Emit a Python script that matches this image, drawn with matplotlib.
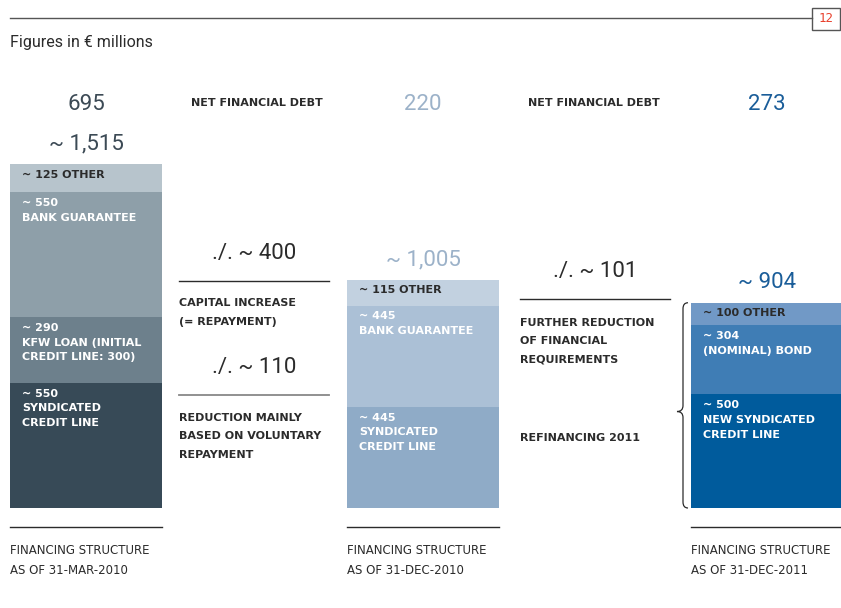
import matplotlib
matplotlib.use("Agg")
import matplotlib.pyplot as plt
from matplotlib.patches import Rectangle, PathPatch
from matplotlib.path import Path

# data (segments bottom-up, values in EUR millions)
periods = ["FINANCING STRUCTURE\nAS OF 31-MAR-2010",
           "FINANCING STRUCTURE\nAS OF 31-DEC-2010",
           "FINANCING STRUCTURE\nAS OF 31-DEC-2011"]
net_debt = [695, 220, 273]
totals = [1515, 1005, 904]
total_labels = ["~ 1,515", "~ 1,005", "~ 904"]

mar2010_values = [550, 290, 550, 125]
mar2010_labels = ["~ 550\nSYNDICATED\nCREDIT LINE",
                  "~ 290\nKFW LOAN (INITIAL\nCREDIT LINE: 300)",
                  "~ 550\nBANK GUARANTEE",
                  "~ 125 OTHER"]
dec2010_values = [445, 445, 115]
dec2010_labels = ["~ 445\nSYNDICATED\nCREDIT LINE",
                  "~ 445\nBANK GUARANTEE",
                  "~ 115 OTHER"]
dec2011_values = [500, 304, 100]
dec2011_labels = ["~ 500\nNEW SYNDICATED\nCREDIT LINE",
                  "~ 304\n(NOMINAL) BOND",
                  "~ 100 OTHER"]

reductions = ["./. ~ 400", "./. ~ 110", "./. ~ 101"]

# styling
mar_colors = ["#374a57", "#6d808c", "#8e9fa9", "#b7c4cc"]
dec10_colors = ["#8fabc7", "#abc0d6", "#c2d1e0"]
dec11_colors = ["#005b9c", "#3f7db5", "#7199c6"]
num_colors = ["#3c4a55", "#9cb2c9", "#1a5d99"]
dark = "#2b2b2b"
small = 8

W, H = 841, 608
base_px = 508
scale = 344 / 1515  # px per million

fig = plt.figure(figsize=(W / 100, H / 100), dpi=100)
ax = fig.add_axes([0, 0, 1, 1])
ax.set_xlim(0, W)
ax.set_ylim(-(H - base_px) / scale, base_px / scale)
ax.axis("off")

# overlay for page furniture in pixel coords
ov = fig.add_axes([0, 0, 1, 1], zorder=3)
ov.set_xlim(0, W)
ov.set_ylim(H, 0)
ov.axis("off")
ov.patch.set_alpha(0)

bar_x = [10, 347, 691]
bar_w = 152
stacks = [(mar2010_values, mar2010_labels, mar_colors),
          (dec2010_values, dec2010_labels, dec10_colors),
          (dec2011_values, dec2011_labels, dec11_colors)]

for i, (vals, labs, cols) in enumerate(stacks):
    bottom = 0
    for v, lab, c in zip(vals, labs, cols):
        ax.bar(bar_x[i], v, width=bar_w, bottom=bottom, color=c, align="edge", linewidth=0)
        top = bottom + v
        tc = dark if "OTHER" in lab else "white"
        ax.annotate(lab, xy=(bar_x[i], top), xytext=(8.5, -4), textcoords="offset points",
                    ha="left", va="top", fontsize=small, fontweight="bold", color=tc,
                    linespacing=1.6, family="DejaVu Sans")
        bottom = top
    cx = bar_x[i] + bar_w / 2
    ax.annotate(total_labels[i], xy=(cx, totals[i]), xytext=(0, 14.5), textcoords="offset points",
                ha="center", va="center", fontsize=16, color=num_colors[i], family="Roboto")
    ov.text(cx, 104, str(net_debt[i]), ha="center", va="center", fontsize=16,
            color=num_colors[i], family="Roboto")
    ov.plot([bar_x[i], bar_x[i] + bar_w], [527, 527], color=dark, lw=1)
    ov.text(bar_x[i], 544, periods[i], ha="left", va="top", fontsize=8.5, color=dark,
            linespacing=1.7, family="DejaVu Sans", fontweight="medium")

# header
ov.plot([10, 812], [18, 18], color="#555555", lw=1)
ov.add_patch(Rectangle((812, 8), 28, 22, fill=False, edgecolor="#555555", lw=1))
ov.text(826, 19, "12", ha="center", va="center", fontsize=9, color="#e8402c", family="DejaVu Sans Mono")
ov.text(10, 42, "Figures in € millions", ha="left", va="center", fontsize=11.5, color=dark, family="Roboto")

for x in [257, 594]:
    ov.text(x, 103, "NET FINANCIAL DEBT", ha="center", va="center", fontsize=small,
            fontweight="bold", color=dark, family="DejaVu Sans")

# explanation columns
ov.text(254, 253, reductions[0], ha="center", va="center", fontsize=16, color=dark, family="Roboto")
ov.plot([179, 329], [281, 281], color=dark, lw=1)
ov.text(179, 298, "CAPITAL INCREASE\n(= REPAYMENT)", ha="left", va="top", fontsize=small,
        fontweight="bold", color=dark, linespacing=2.1, family="DejaVu Sans")
ov.text(254, 367, reductions[1], ha="center", va="center", fontsize=16, color=dark, family="Roboto")
ov.plot([179, 329], [395, 395], color="#888888", lw=1.3)
ov.text(179, 413, "REDUCTION MAINLY\nBASED ON VOLUNTARY\nREPAYMENT", ha="left", va="top", fontsize=small,
        fontweight="bold", color=dark, linespacing=2.05, family="DejaVu Sans")

ov.text(595, 272, reductions[2], ha="center", va="center", fontsize=16, color=dark, family="Roboto")
ov.plot([520, 670], [299, 299], color=dark, lw=1)
ov.text(520, 318, "FURTHER REDUCTION\nOF FINANCIAL\nREQUIREMENTS", ha="left", va="top", fontsize=small,
        fontweight="bold", color=dark, linespacing=2.05, family="DejaVu Sans")
ov.text(520, 438, "REFINANCING 2011", ha="left", va="center", fontsize=small,
        fontweight="bold", color=dark, family="DejaVu Sans")

# brace next to last bar, spanning its full height
t = totals[2]
mid = t * 0.47
d = 6 / scale
bx, tip = 683, 677
verts = [(688, t), (683, t), (bx, t - d),
         (bx, mid + d), (bx, mid), (tip, mid),
         (bx, mid), (bx, mid - d),
         (bx, d), (683, 0), (688, 0)]
codes = [Path.MOVETO, Path.CURVE3, Path.CURVE3,
         Path.LINETO, Path.CURVE3, Path.CURVE3,
         Path.CURVE3, Path.CURVE3,
         Path.LINETO, Path.CURVE3, Path.CURVE3]
ax.add_patch(PathPatch(Path(verts, codes), fill=False, edgecolor=dark, lw=0.9))

fig.savefig("out.png", dpi=100)
